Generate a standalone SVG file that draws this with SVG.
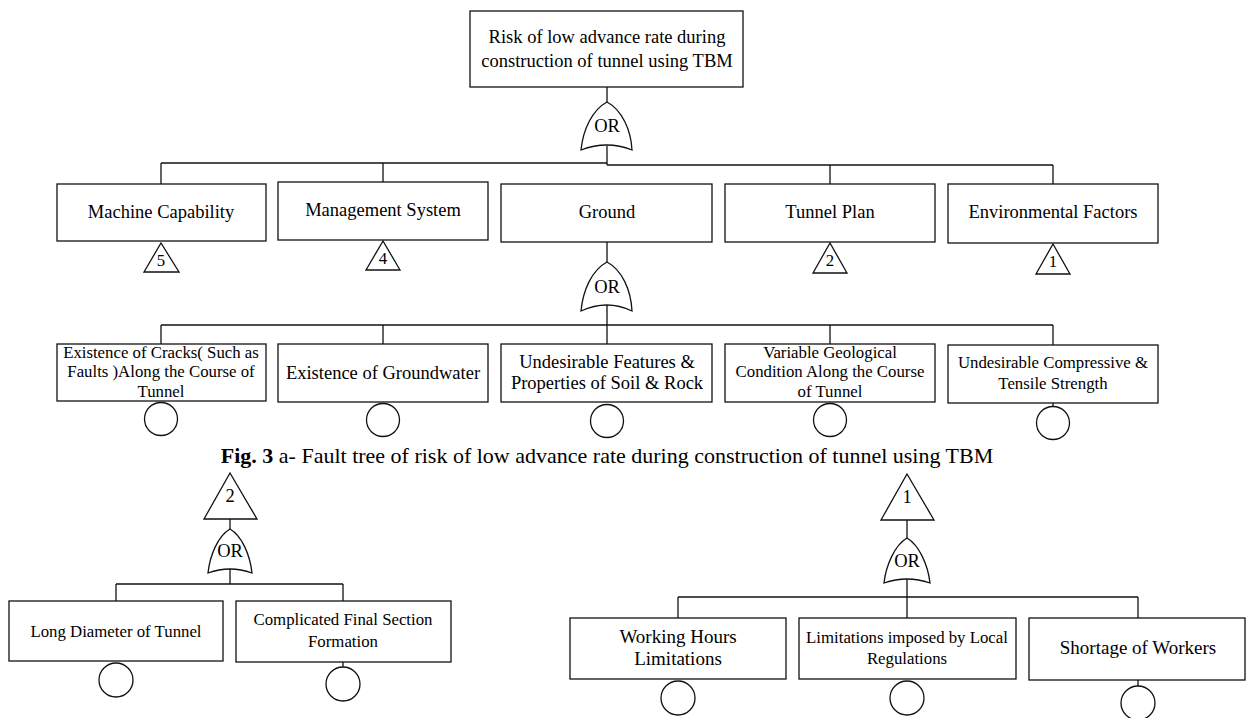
<svg xmlns="http://www.w3.org/2000/svg" width="1247" height="718" viewBox="0 0 1247 718">
<style>
.box{fill:#fff;stroke:#111;stroke-width:1.3}
.ln{fill:none;stroke:#111;stroke-width:1.3}
.gate{fill:#fff;stroke:#111;stroke-width:1.3}
.t{font-family:"Liberation Serif","Times New Roman",serif;fill:#000;text-anchor:middle}
.s185{font-size:18.5px}
.s17{font-size:16.8px}
.s19{font-size:19px}
.cap{font-size:22px}
</style>
<rect width="1247" height="718" fill="#fff"/>

<g id="connectors">
  <line class="ln" x1="607" y1="87" x2="607" y2="102"/>
  <line class="ln" x1="607" y1="146" x2="607" y2="165"/>
  <line class="ln" x1="161" y1="163" x2="607" y2="163"/>
  <line class="ln" x1="607" y1="165" x2="1053" y2="165"/>
  <line class="ln" x1="161" y1="163" x2="161" y2="184"/>
  <line class="ln" x1="383" y1="163" x2="383" y2="182"/>
  <line class="ln" x1="830" y1="165" x2="830" y2="184"/>
  <line class="ln" x1="1053" y1="165" x2="1053" y2="184"/>
  <line class="ln" x1="607" y1="242" x2="607" y2="262"/>
  <line class="ln" x1="607" y1="305" x2="607" y2="344"/>
  <line class="ln" x1="161" y1="325" x2="1053" y2="325"/>
  <line class="ln" x1="161" y1="325" x2="161" y2="344"/>
  <line class="ln" x1="383" y1="325" x2="383" y2="344"/>
  <line class="ln" x1="830" y1="325" x2="830" y2="344"/>
  <line class="ln" x1="1053" y1="325" x2="1053" y2="345"/>
  <line class="ln" x1="1053" y1="403" x2="1053" y2="407"/>
  <line class="ln" x1="230" y1="519" x2="230" y2="529"/>
  <line class="ln" x1="230" y1="569" x2="230" y2="584"/>
  <line class="ln" x1="116" y1="584" x2="343" y2="584"/>
  <line class="ln" x1="116" y1="584" x2="116" y2="601"/>
  <line class="ln" x1="343" y1="584" x2="343" y2="601"/>
  <line class="ln" x1="343" y1="662" x2="343" y2="667"/>
  <line class="ln" x1="907" y1="520" x2="907" y2="538"/>
  <line class="ln" x1="907" y1="579" x2="907" y2="618"/>
  <line class="ln" x1="678" y1="597" x2="1138" y2="597"/>
  <line class="ln" x1="678" y1="597" x2="678" y2="618"/>
  <line class="ln" x1="1138" y1="597" x2="1138" y2="618"/>
  <line class="ln" x1="1138" y1="680" x2="1138" y2="686"/>
</g>

<g id="top-event">
  <rect class="box" x="470" y="11" width="273" height="76"/>
  <text class="t s185" x="607" y="43">Risk of low advance rate during</text>
  <text class="t s185" x="607" y="67">construction of tunnel using TBM</text>
</g>

<g id="gate-top">
  <path class="gate" d="M581,150 C583,130 592,110 607,102 C622,110 631,130 632,150 Q607,140 581,150 Z"/>
  <text class="t s185" x="607" y="132">OR</text>
</g>

<g id="machine-capability">
  <rect class="box" x="57" y="184" width="209" height="57"/>
  <text class="t s185" x="161" y="218">Machine Capability</text>
  <polygon class="box" points="161,243 179,272 144,272"/>
  <text class="t s17" x="161" y="266">5</text>
</g>

<g id="management-system">
  <rect class="box" x="278" y="182" width="210" height="58"/>
  <text class="t s185" x="383" y="216">Management System</text>
  <polygon class="box" points="383,241 400,270 366,270"/>
  <text class="t s17" x="383" y="264">4</text>
</g>

<g id="ground">
  <rect class="box" x="501" y="184" width="211" height="58"/>
  <text class="t s185" x="607" y="218">Ground</text>
</g>

<g id="gate-ground">
  <path class="gate" d="M581,311 C583,290 592,270 607,262 C622,270 631,290 632,311 Q607,299 581,311 Z"/>
  <text class="t s185" x="607" y="293">OR</text>
</g>

<g id="tunnel-plan">
  <rect class="box" x="725" y="184" width="210" height="58"/>
  <text class="t s185" x="830" y="218">Tunnel Plan</text>
  <polygon class="box" points="830,243 847,273 813,273"/>
  <text class="t s17" x="830" y="266">2</text>
</g>

<g id="environmental-factors">
  <rect class="box" x="948" y="184" width="210" height="59"/>
  <text class="t s185" x="1053" y="218">Environmental Factors</text>
  <polygon class="box" points="1053,244 1070,274 1036,274"/>
  <text class="t s17" x="1053" y="267">1</text>
</g>

<g id="cracks">
  <rect class="box" x="57" y="344" width="209" height="57"/>
  <text class="t s17" x="161" y="358">Existence of Cracks( Such as</text>
  <text class="t s17" x="161" y="377">Faults )Along the Course of</text>
  <text class="t s17" x="161" y="397">Tunnel</text>
  <circle class="box" cx="161" cy="419" r="16.5"/>
</g>

<g id="groundwater">
  <rect class="box" x="278" y="344" width="210" height="58"/>
  <text class="t s185" x="383" y="379">Existence of Groundwater</text>
  <circle class="box" cx="383" cy="420" r="16.5"/>
</g>

<g id="soil-rock">
  <rect class="box" x="501" y="344" width="211" height="58"/>
  <text class="t s185" x="607" y="368">Undesirable Features &amp;</text>
  <text class="t s185" x="607" y="389">Properties of Soil &amp; Rock</text>
  <circle class="box" cx="607" cy="421" r="16.5"/>
</g>

<g id="geological">
  <rect class="box" x="725" y="344" width="210" height="58"/>
  <text class="t s17" x="830" y="358">Variable Geological</text>
  <text class="t s17" x="830" y="377">Condition Along the Course</text>
  <text class="t s17" x="830" y="397">of Tunnel</text>
  <circle class="box" cx="830" cy="420" r="16.5"/>
</g>

<g id="strength">
  <rect class="box" x="948" y="345" width="210" height="58"/>
  <text class="t s17" x="1053" y="368">Undesirable Compressive &amp;</text>
  <text class="t s17" x="1053" y="389">Tensile Strength</text>
  <circle class="box" cx="1053" cy="423" r="16.5"/>
</g>

<g id="caption">
  <text class="t cap" x="607" y="463"><tspan font-weight="bold">Fig. 3</tspan> a- Fault tree of risk of low advance rate during construction of tunnel using TBM</text>
</g>

<g id="transfer-2">
  <polygon class="box" points="230,473 257,519 204,519"/>
  <text class="t s185" x="230" y="502">2</text>
  <path class="gate" d="M208,573 C210,555 218,536 230,529 C242,536 250,555 252,573 Q230,565 208,573 Z"/>
  <text class="t s185" x="230" y="557">OR</text>
</g>

<g id="long-diameter">
  <rect class="box" x="9" y="601" width="214" height="60"/>
  <text class="t s17" x="116" y="637">Long Diameter of Tunnel</text>
  <circle class="box" cx="116" cy="680" r="17"/>
</g>

<g id="final-section">
  <rect class="box" x="236" y="601" width="215" height="61"/>
  <text class="t s17" x="343" y="625">Complicated Final Section</text>
  <text class="t s17" x="343" y="647">Formation</text>
  <circle class="box" cx="343" cy="684" r="17"/>
</g>

<g id="transfer-1">
  <polygon class="box" points="907,474 934,520 881,520"/>
  <text class="t s185" x="907" y="503">1</text>
  <path class="gate" d="M884,583 C886,565 895,545 907,538 C919,545 928,565 930,583 Q907,575 884,583 Z"/>
  <text class="t s185" x="907" y="567">OR</text>
</g>

<g id="working-hours">
  <rect class="box" x="570" y="618" width="216" height="61"/>
  <text class="t s19" x="678" y="643">Working Hours</text>
  <text class="t s19" x="678" y="665">Limitations</text>
  <circle class="box" cx="678" cy="698" r="17"/>
</g>

<g id="local-regulations">
  <rect class="box" x="799" y="618" width="217" height="61"/>
  <text class="t s17" x="907" y="643">Limitations imposed by Local</text>
  <text class="t s17" x="907" y="664">Regulations</text>
  <circle class="box" cx="907" cy="698" r="17"/>
</g>

<g id="shortage-workers">
  <rect class="box" x="1029" y="618" width="216" height="62"/>
  <text class="t s19" x="1138" y="654">Shortage of Workers</text>
  <circle class="box" cx="1138" cy="703" r="17"/>
</g>
</svg>
